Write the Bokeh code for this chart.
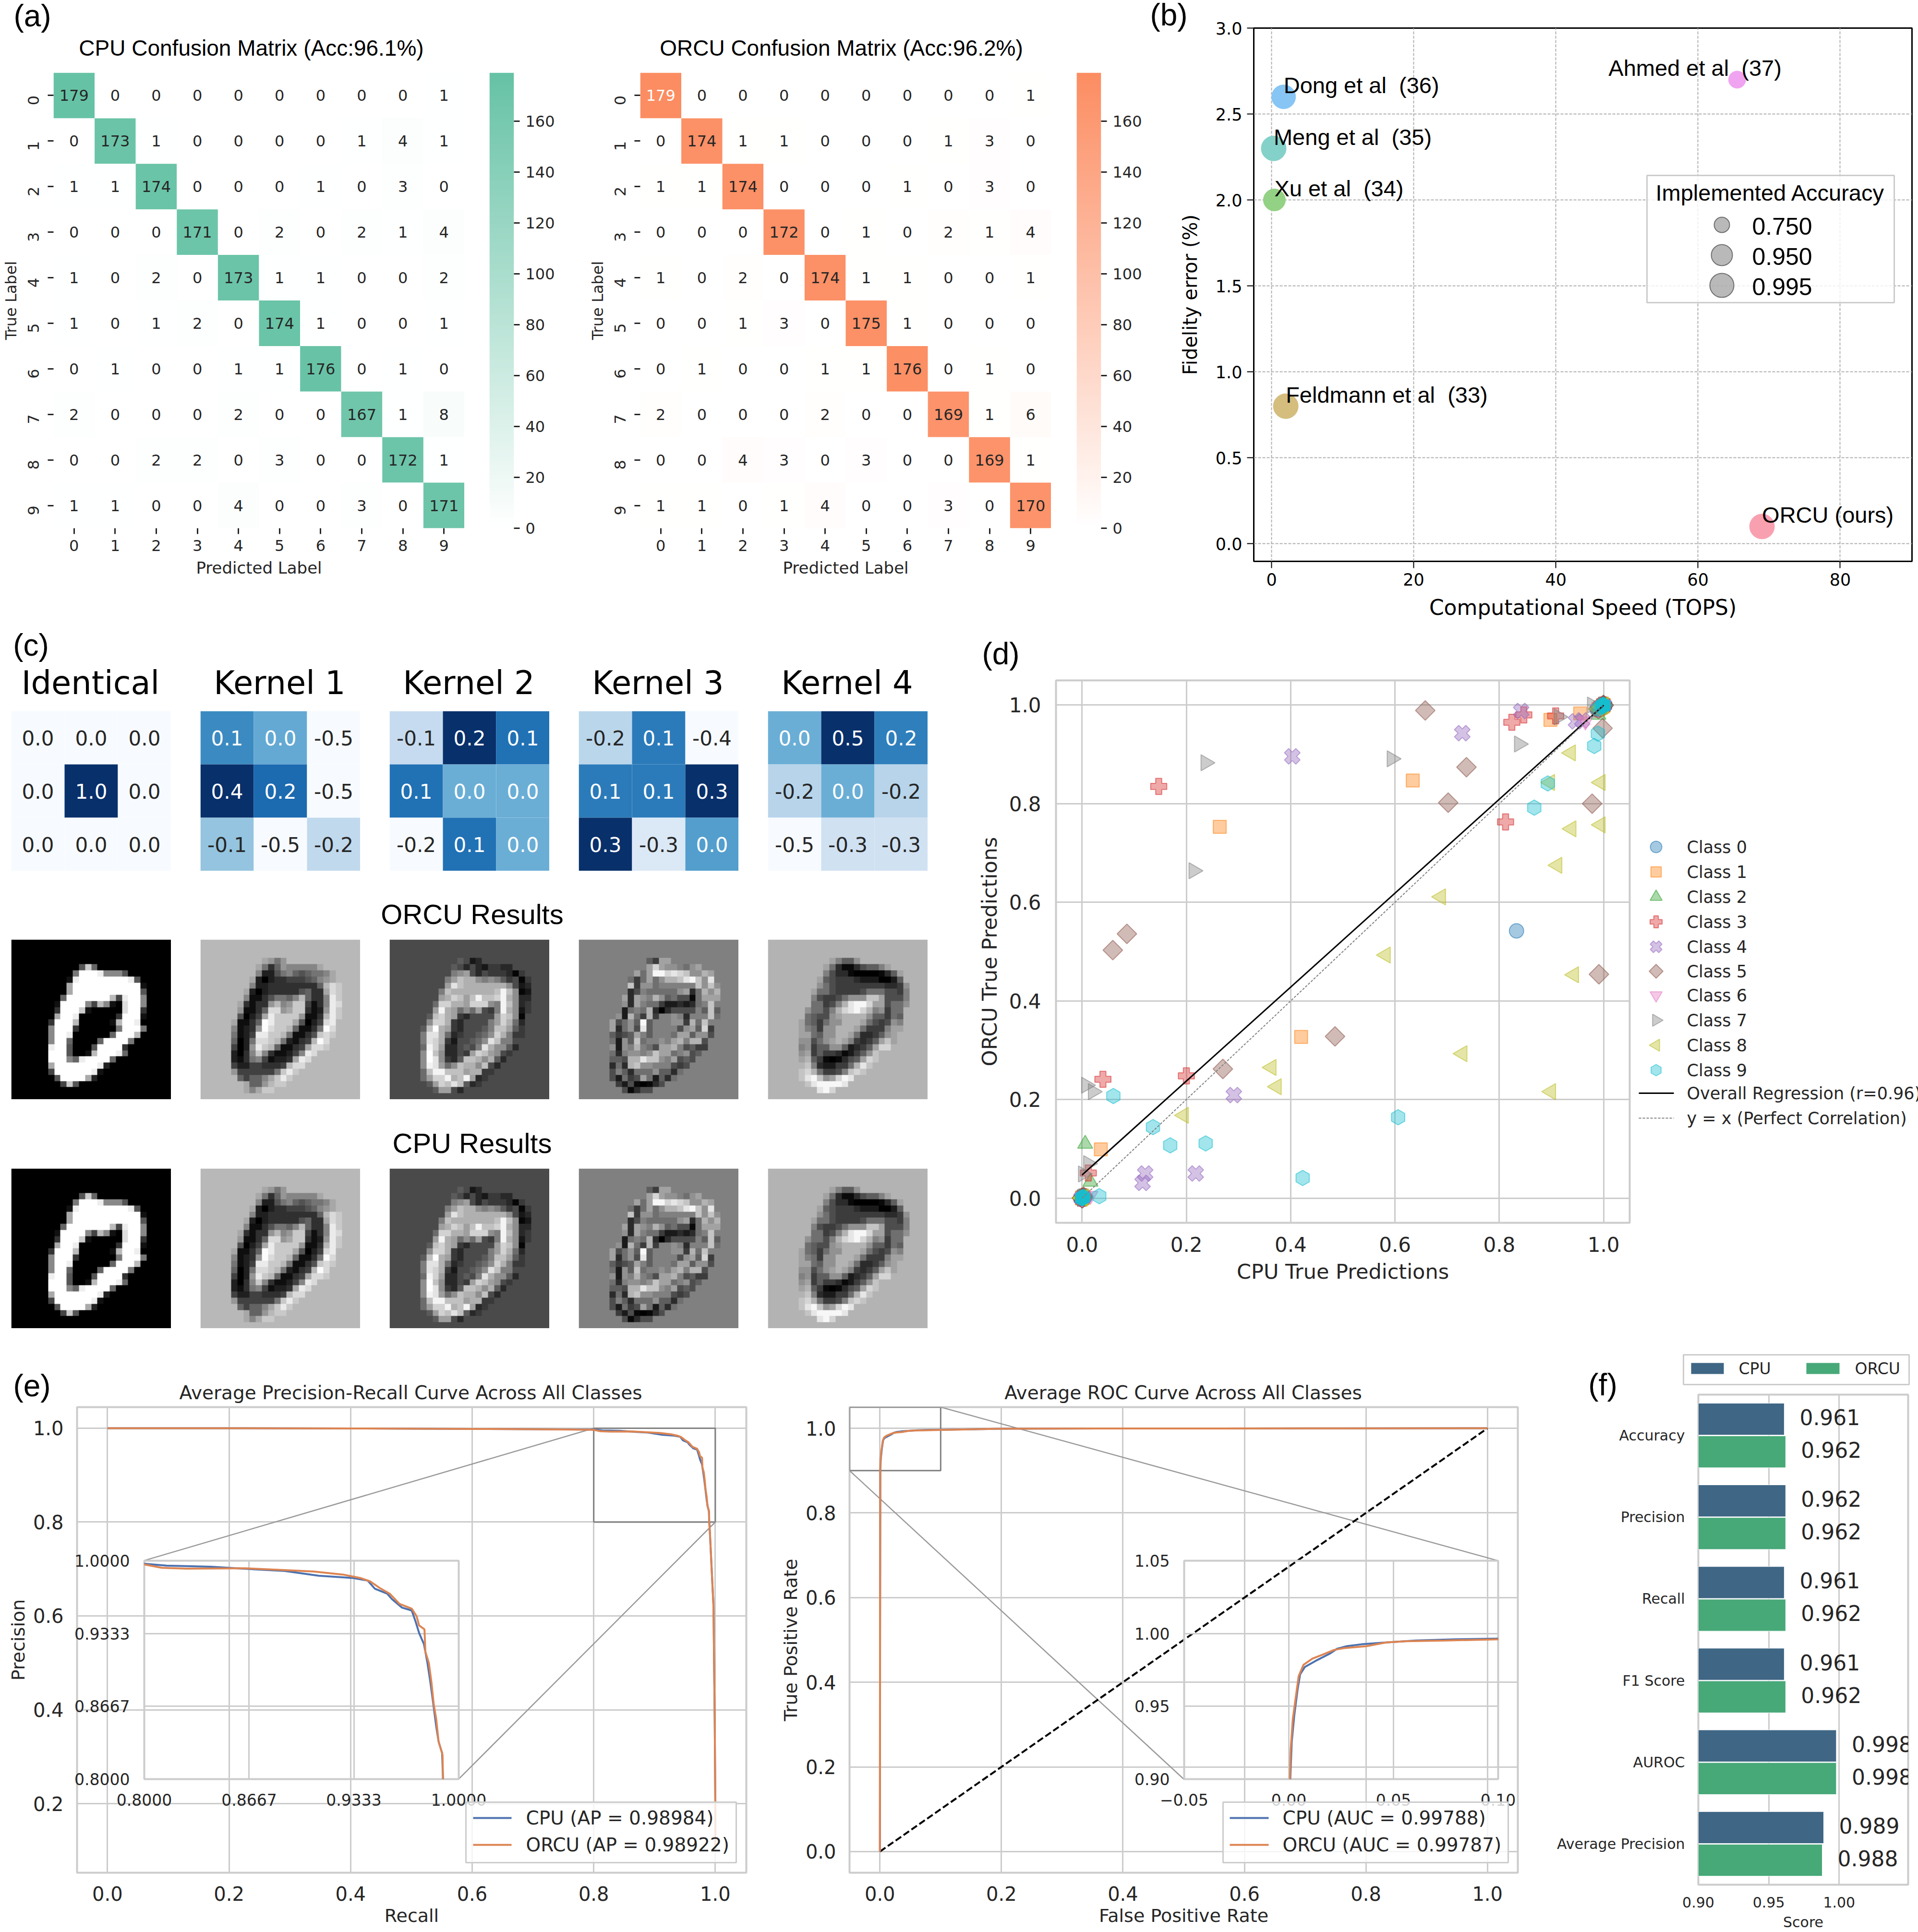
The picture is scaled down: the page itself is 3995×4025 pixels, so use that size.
import numpy as np
from bokeh.embed import file_html
from bokeh.resources import INLINE
from bokeh.plotting import figure
from bokeh.models import Column, FactorRange, Range1d, FixedTicker, LinearColorMapper, NumeralTickFormatter, LabelSet, ColumnDataSource
from bokeh.palettes import Blues256, Greys256
from bokeh.core.properties import value

# ---------- data ----------
cm_labels = ["0","1","2","3","4","5","6","7","8","9"]
cm_cpu = [[179,0,0,0,0,0,0,0,0,1],[0,173,1,0,0,0,0,1,4,1],[1,1,174,0,0,0,1,0,3,0],[0,0,0,171,0,2,0,2,1,4],
          [1,0,2,0,173,1,1,0,0,2],[1,0,1,2,0,174,1,0,0,1],[0,1,0,0,1,1,176,0,1,0],[2,0,0,0,2,0,0,167,1,8],
          [0,0,2,2,0,3,0,0,172,1],[1,1,0,0,4,0,0,3,0,171]]
cm_orcu = [[179,0,0,0,0,0,0,0,0,1],[0,174,1,1,0,0,0,1,3,0],[1,1,174,0,0,0,1,0,3,0],[0,0,0,172,0,1,0,2,1,4],
           [1,0,2,0,174,1,1,0,0,1],[0,0,1,3,0,175,1,0,0,0],[0,1,0,0,1,1,176,0,1,0],[2,0,0,0,2,0,0,169,1,6],
           [0,0,4,3,0,3,0,0,169,1],[1,1,0,1,4,0,0,3,0,170]]
cbar_ticks = [0,20,40,60,80,100,120,140,160]

NB = "\u00a0\u00a0"
bench_names = ["Dong et al"+NB+"(36)","Meng et al"+NB+"(35)","Xu et al"+NB+"(34)","Feldmann et al"+NB+"(33)","Ahmed et al"+NB+"(37)","ORCU (ours)"]
bench_speed = [1.7,0.3,0.4,2.0,65.5,69.0]
bench_error = [2.6,2.3,2.0,0.8,2.7,0.1]
bench_label_x = [1.7,0.3,0.4,2.0,47.4,69.0]
bench_size = [50,52,46,52,36,52]
bench_colors = ["#87c5f5","#84d1c9","#93d284","#d4bd7d","#f0a3f0","#f9a0b0"]
acc_labels = ["0.750","0.950","0.995"]

kernel_titles = ["Identical","Kernel 1","Kernel 2","Kernel 3","Kernel 4"]
kernel_values = [
 [[0,0,0],[0,1,0],[0,0,0]],
 [[.085,-.03,-.5],[.4,.2,-.5],[-.14,-.5,-.26]],
 [[-.1,.2,.1],[.1,0,0],[-.2,.1,0]],
 [[-.2,.1,-.4],[.1,.1,.3],[.3,-.3,0]],
 [[0,.5,.2],[-.2,0,-.2],[-.5,-.3,-.3]]]
kernel_text = [
 [["0.0","0.0","0.0"],["0.0","1.0","0.0"],["0.0","0.0","0.0"]],
 [["0.1","0.0","-0.5"],["0.4","0.2","-0.5"],["-0.1","-0.5","-0.2"]],
 [["-0.1","0.2","0.1"],["0.1","0.0","0.0"],["-0.2","0.1","0.0"]],
 [["-0.2","0.1","-0.4"],["0.1","0.1","0.3"],["0.3","-0.3","0.0"]],
 [["0.0","0.5","0.2"],["-0.2","0.0","-0.2"],["-0.5","-0.3","-0.3"]]]

Z="0"*26; B="b"*26; F="4"*26; E="8"*26
img_digit = [Z,Z,Z,Z,
"000000000005c6000000000000","00000000007fffe88850000000","0000000001effffffffe500000","000000000afffffffffff10000",
"000000000afffffffffff50000","000000006fffffffb4eff80000","00000001ffff84b810dff80000","00000003fffc100000dff30000",
"0000000affe0000003fff10000","0000003fffb000001bffe00000","0000008fff30000007fff70000","0000008ffe0000006fffb00000",
"0000008ff600006ffff7000000","000000eff50005ffff30000000","000000fff5001bfffe60000000","000000fff86effff6000000000",
"000000afffffffe20000000000","0000004ffffffe100000000000","00000005ffffa2000000000000","000000004c5000000000000000",Z,Z]
img_k1 = [B,B,B,"bbbbbbbbbba979bbbbbbbbbbbb",
"bbbbbbbbba736988888abbbbbb","bbbbbbbbb822578656778abbbb","bbbbbbbba202334445689abbbb","bbbbbbbb822333333336bdcbbb",
"bbbbbbba202333335633adcbbb","bbbbbbb811357768b6338ecbbb","bbbbbba31339b89cc4138edbbb","bbbbbb91136dd9acc3129ecbbb",
"bbbbbb5024aecccc9113becbbb","bbbbba1136feccca5024debbbb","bbbbb81239fdccb61137fdbbbb","bbbbb7124eeccb71135cdcbbbb",
"bbbbb6027ddcb72134bfdbbbbb","bbbbb4029ecb61134addcbbbbb","bbbbb2038c8311248edbbbbbbb","bbbbb2137841223aedbbbbbbbb",
"bbbbb422443334bddbbbbbbbbb","bbbbb94444447cecbbbbbbbbbb","bbbbbb64668acecbbbbbbbbbbb","bbbbbbba669bccbbbbbbbbbbbb","bbbbbbba8accbbbbbbbbbbbbbb",B]
img_k2 = [F,F,F,"44444444444541244444444444",
"44444444445424213322444444","44444444447894243332034444","44444444479baa878753403444","4444444449dbaaaaaaa8412444",
"444444447baaaaaaabeb801444","444444449acb9bebbcea822444","44444446ccaa9ccc87eb823444","44444449ea96869437ea813444",
"4444445bca93244449cb804444","4444448cca32444479ca624444","444445bfa93244457bb9534444","444447dda62344568ca7334444",
"444447dca3144568db77444444","444446ec9224547da885244444","444448fb822439cb9843444444","444448fd8325bba8a524444444",
"444448ed968baa8b4244444444","444446beebbb9aa33444444444","4444469cceabe9234444444444","44444459cbdb52344444444444","44444445994244444444444444",F]
img_k3 = [E,E,E,"8888888888864aa88888888888",
"88888888888ada99879a888888","888888888a7affdedc99ba8888","88888888747a79bbcefc9e8888","88888888c4997888888c9c9888",
"88888888358777779a37b9b888","8888888a3a98b9675517aaa888","888888893a87742232378c8888","88888882787b303555586c6888",
"88888892b74b488983888c7888","88888a5796f6888994b7c88888","88888a3795e6888859a6d48888","888886456a868887aa69958888",
"888887296c78898ab8bb588888","888889298b875aab8564488888","888887389989caa78956888888","88888665bbecc98a5658888888",
"88888373bc9988854588888888","88888586377796637888888888","8888852745a726378888888888","88888842510135888888888888","88888885135588888888888888",E]
img_k4 = [B,B,B,"bbbbbbbbbba8669bbbbbbbbbbb",
"bbbbbbbbba731135668abbbbbb","bbbbbbbbb853310000136abbbb","bbbbbbbba6544432220026bbbb","bbbbbbbb975444444443349bbb",
"bbbbbbba775444457775548bbb","bbbbbbb854457999cca5558bbb","bbbbbbb77458beffdaa5779bbb","bbbbbb97758bdefdb89477bbbb",
"bbbbbb76559abbbb966476bbbb","bbbbba764799bbba754598bbbb","bbbbba87499bbba74448aabbbb","bbbbbaa7699bba733469abbbbb",
"bbbbb99579aba84346acabbbbb","bbbbb894669962346addbbbbbb","bbbbb9a4644312469cbbbbbbbb","bbbbbab64101356adcbbbbbbbb",
"bbbbbbc8322447becbbbbbbbbb","bbbbbcdb74458cdcbbbbbbbbbb","bbbbbcefc9adfebbbbbbbbbbbb","bbbbbbceffffebbbbbbbbbbbbb","bbbbbbbbefdbbbbbbbbbbbbbbb",B]
img_levels = [0,-3,6,-8,-8]

class_names = ["Class %d" % i for i in range(10)]
hi_cpu = [1.0,1.0,1.0,.999,.998,.995,.99]
hi_orcu = [1.0,1.0,.999,1.0,.997,.996,.992]
lo_cpu = [0,0,0,0,.001,.002,.003]
lo_orcu = [0,0,0,.001,0,.002,.003]
c0_cpu = [.833]; c0_orcu = [.542]
c1_cpu = [.264,.634,.42,.036,.898,.955]; c1_orcu = [.753,.847,.327,.099,.97,.983]
c2_cpu = [.006,.016,.99]; c2_orcu = [.11,.033,.98]
c3_cpu = [.147,.824,.847,.908,.812,.2,.04,.012]; c3_orcu = [.835,.965,.98,.978,.763,.248,.241,.051]
c4_cpu = [.403,.729,.842,.947,.959,.291,.121,.116,.218]; c4_orcu = [.896,.943,.988,.967,.969,.209,.05,.031,.05]
c5_cpu = [.658,.737,.702,.978,.998,.059,.086,.485,.27,.991]; c5_orcu = [.989,.874,.802,.8,.953,.503,.536,.328,.262,.454]
c6_cpu = [.965,.016]; c6_orcu = [.967,.005]
c7_cpu = [.237,.594,.838,.214,.914,.008,.021,.012,.002,.978]; c7_orcu = [.883,.891,.921,.664,.976,.229,.216,.07,.049,1.0]
c8_cpu = [.937,.897,.994,.994,.938,.911,.688,.582,.943,.729,.363,.373,.899,.195]
c8_orcu = [.903,.843,.843,.757,.749,.675,.611,.493,.453,.293,.265,.226,.216,.168]
c9_cpu = [.989,.982,.893,.867,.606,.06,.136,.169,.237,.423,.033,1.0,.999,.998,1.0,.001,0.0]
c9_orcu = [.942,.917,.841,.792,.164,.207,.144,.107,.111,.041,.004,1.0,.998,1.0,.999,0.0,.001]
reg_x = [0.0,1.0]; reg_y = [0.047,0.9995]

pr_cpu_x = [0,.2,.4,.6,.7,.8,.8143,.8424,.8704,.8891,.9109,.9327,.9421,.9467,.9545,.9576,.9639,.9701,.9726,.9748,.9779,.9801,.9819,.9832,.9857,.9872,.9894,.99,.991,.997,.999,1.0,1.0]
pr_cpu_y = [1,1,.9995,.9985,.998,.9973,.9955,.9945,.9921,.9907,.9863,.9842,.9818,.9743,.9698,.9647,.9571,.9544,.9441,.9338,.9235,.9063,.8892,.8755,.848,.8343,.824,.8,.78,.62,.38,.2,.1]
pr_orcu_x = [0,.2,.4,.6,.7,.8,.8112,.8268,.8642,.8891,.9078,.9265,.9374,.9436,.9498,.9561,.9623,.9701,.9732,.9748,.9782,.9788,.981,.9826,.9841,.9857,.9872,.9897,.99,.991,.997,.999,1.0,1.0]
pr_orcu_y = [1,1,.9995,.9985,.998,.9966,.9935,.9928,.9931,.9914,.9901,.9873,.9842,.9811,.975,.9698,.9605,.9561,.9492,.9407,.9372,.9166,.9063,.8892,.8686,.8549,.8343,.8223,.8,.78,.62,.38,.2,.1]
roc_cpu_x = [0,.0003,.0007,.0014,.0026,.0042,.0054,.0077,.0136,.0195,.023,.0277,.0347,.0465,.0606,.0793,.1,.2,.4,.7,1.0]
roc_cpu_y = [0,.5,.9,.9257,.9437,.9617,.972,.9771,.9818,.9861,.9895,.9913,.9926,.9939,.9952,.996,.9965,.999,.9995,.9998,1.0]
roc_orcu_x = [0,.0002,.0005,.0009,.0019,.0031,.0047,.007,.0113,.016,.0218,.0265,.0371,.0465,.0559,.0746,.1,.2,.4,.7,1.0]
roc_orcu_y = [0,.5,.9,.9206,.9412,.954,.9707,.9785,.9828,.9854,.9888,.99,.9913,.9939,.9947,.9952,.996,.999,.9995,.9998,1.0]

metrics = ["Accuracy","Precision","Recall","F1 Score","AUROC","Average Precision"]
metric_cpu = [.961,.962,.961,.961,.998,.989]
metric_orcu = [.962,.962,.962,.962,.998,.988]
metric_ticks = [.90,.95,1.00]

# ---------- helpers ----------
DJ = "DejaVu Sans"; LB = "Liberation Sans"
INK = "#262626"; GRID = "#cccccc"
BLUE = "#4c72b0"; ORANGE = "#dd8452"
figs = []

def panel(x0, y0, x1, y1, l=0, t=0, r=0, b=0, x_range=None, y_range=None, **kw):
    f = figure(width=int(x1-x0+l+r), height=int(y1-y0+t+b), x_range=x_range, y_range=y_range,
               tools="", toolbar_location=None, output_backend="svg", frame_align=False,
               min_border_left=l, min_border_right=r, min_border_top=t, min_border_bottom=b,
               styles={"position": "absolute", "left": "%dpx" % (x0-l), "top": "%dpx" % (y0-t)}, **kw)
    f.border_fill_color = None
    f.background_fill_color = None
    figs.append(f)
    return f

def style(f, tick, label=None, grid=GRID, gw=3, outline=GRID, ow=4, ink=INK, std=10, font=DJ):
    f.axis.axis_line_color = None
    f.axis.major_tick_line_color = None
    f.axis.minor_tick_line_color = None
    f.axis.major_label_text_font = font
    f.axis.major_label_text_font_size = "%dpx" % tick
    f.axis.major_label_text_color = ink
    f.axis.major_label_standoff = std
    f.axis.axis_label_text_font = font
    f.axis.axis_label_text_font_style = "normal"
    f.axis.axis_label_text_color = ink
    if label:
        f.axis.axis_label_text_font_size = "%dpx" % label
    if grid:
        f.grid.grid_line_color = grid
        f.grid.grid_line_width = gw
    else:
        f.grid.grid_line_color = None
    f.outline_line_color = outline
    f.outline_line_width = ow

def shade(hexcolor, n=256):
    c = np.array([int(hexcolor[i:i+2], 16) for i in (1, 3, 5)], float)
    return ["#%02x%02x%02x" % tuple(int(round(v)) for v in 255+(c-255)*k/(n-1)) for k in range(n)]

def confusion(matrix, x0, x1, cb0, cb1, color, white_from):
    y0, y1 = 151, 1100
    pal = shade(color)
    mapper = LinearColorMapper(palette=pal, low=0, high=179)
    f = panel(x0, y0, x1, y1, l=min(x0, 110), b=125, x_range=FactorRange(factors=cm_labels),
              y_range=FactorRange(factors=cm_labels[::-1]))
    xs = [cm_labels[c] for r in range(10) for c in range(10)]
    ys = [cm_labels[r] for r in range(10) for c in range(10)]
    vals = [matrix[r][c] for r in range(10) for c in range(10)]
    f.rect(x=xs, y=ys, width=1, height=1, fill_color=[pal[int(round(v/179*255))] for v in vals], line_color=None)
    f.text(x=xs, y=ys, text=[str(v) for v in vals], text_font=value(DJ), text_font_size="32px",
           text_align="center", text_baseline="middle",
           text_color=["#ffffff" if v >= white_from else INK for v in vals])
    style(f, 32, 34, grid=None, outline=None, std=12)
    f.axis.major_tick_line_color = INK
    f.axis.major_tick_line_width = 3
    f.axis.major_tick_out = 12
    f.axis.major_tick_in = 0
    f.xaxis.axis_label = "Predicted Label"
    f.yaxis.axis_label = "True Label"
    f.yaxis.axis_label_text_font_size = "32px"
    f.xaxis.axis_label_standoff = 12
    f.yaxis.axis_label_standoff = 2
    f.yaxis.major_label_standoff = 30
    f.yaxis.major_label_orientation = np.pi/2
    c = panel(cb0, y0, cb1, y1, t=30, b=30, r=110, x_range=Range1d(0, 1), y_range=Range1d(0, 179),
              x_axis_location=None, y_axis_location="right")
    c.image(image=[np.linspace(0, 179, 256)[:, None]], x=0, y=0, dw=1, dh=179, color_mapper=mapper)
    style(c, 32, grid=None, outline=None, std=12)
    c.yaxis.ticker = FixedTicker(ticks=cbar_ticks)
    c.yaxis.major_tick_line_color = INK
    c.yaxis.major_tick_line_width = 3
    c.yaxis.major_tick_out = 12
    c.yaxis.major_tick_in = 0

def marker(f, kind, xs, ys, color, size, alpha=0.4):
    shapes = {"o": ("circle", 0, 1.0), "s": ("square", 0, 0.9), "^": ("triangle", 0, 1.05),
              "P": ("plus", 0, 1.05), "X": ("plus", np.pi/4, 1.05), "D": ("square", np.pi/4, 0.85),
              "v": ("inverted_triangle", 0, 1.05), ">": ("triangle", -np.pi/2, 1.05),
              "<": ("triangle", np.pi/2, 1.05), "h": ("hex", np.pi/2, 1.0)}
    name, ang, k = shapes[kind]
    f.scatter(xs, ys, marker=name, angle=ang, size=size*k, fill_color=color, line_color=color,
              fill_alpha=alpha, line_alpha=min(1, alpha+0.15), line_width=2)

# ---------- (a) ----------
confusion(cm_cpu, 110, 967, 1019, 1070, "#66c2a5", 999)
confusion(cm_orcu, 1332, 2189, 2242, 2293, "#fc8d62", 179)

# ---------- (b) ----------
b = panel(2611, 58, 3982, 1169, l=190, t=30, r=10, b=135, x_range=Range1d(-2.5, 90.1), y_range=Range1d(-0.103, 3.0))
style(b, 35, 44, grid="#b0b0b0", gw=2, outline="#000000", ow=3, ink="#000000", std=10)
b.grid.grid_line_dash = "6 3"
b.axis.major_tick_line_color = "#000000"
b.axis.major_tick_line_width = 2
b.axis.major_tick_out = 14
b.axis.major_tick_in = 0
b.xaxis.ticker = FixedTicker(ticks=[0, 20, 40, 60, 80])
b.yaxis.ticker = FixedTicker(ticks=[0, .5, 1, 1.5, 2, 2.5, 3])
b.yaxis.formatter = NumeralTickFormatter(format="0.0")
b.xaxis.axis_label = "Computational Speed (TOPS)"
b.yaxis.axis_label = "Fidelity error (%)"
b.yaxis.axis_label_text_font_size = "40px"
b.xaxis.axis_label_standoff = 17
b.yaxis.axis_label_standoff = 27
b.scatter(bench_speed, bench_error, size=bench_size, fill_color=bench_colors, line_color=bench_colors, line_width=1)
b.text(x=bench_label_x, y=bench_error, text=bench_names, text_font=value(LB), text_font_size="47px",
       text_baseline="middle", text_align="left", y_offset=-24, text_color="#000000")

# ---------- (c) ----------
cell_x = [23, 417, 811, 1205, 1599]
for i in range(5):
    vals = np.array(kernel_values[i], float)
    lo, hi = vals.min(), vals.max()
    pal = Blues256[::-1]
    k = panel(cell_x[i], 1481, cell_x[i]+333, 1814, x_range=Range1d(0, 3), y_range=Range1d(3, 0),
              x_axis_location=None, y_axis_location=None)
    kx = [c+.5 for r in range(3) for c in range(3)]
    ky = [r+.5 for r in range(3) for c in range(3)]
    frac = [(vals[r][c]-lo)/(hi-lo) for r in range(3) for c in range(3)]
    k.rect(x=kx, y=ky, width=1, height=1, fill_color=[pal[int(round(q*255))] for q in frac], line_color=None)
    k.text(x=kx, y=ky, text=[kernel_text[i][r][c] for r in range(3) for c in range(3)],
           text_font=value(DJ), text_font_size="42px", text_align="center", text_baseline="middle",
           text_color=["#ffffff" if q > 0.45 else INK for q in frac])
    k.grid.grid_line_color = None
    k.outline_line_color = None

gray_map = LinearColorMapper(palette=Greys256, low=0, high=255)
orcu_images = [img_digit, img_k1, img_k2, img_k3, img_k4]
cpu_images = [img_digit, img_k1, img_k2, img_k3, img_k4]
def to_gray(rows, level):
    a = np.array([[int(ch, 16)*17 for ch in (row+row[-1]*26)[:26]] for row in rows], float)
    a = a + (level if level else 0)
    return np.clip(a, 0, 255)[::-1]
for top_y, images in ((1957, orcu_images), (2434, cpu_images)):
    for i in range(5):
        g = panel(cell_x[i], top_y, cell_x[i]+333, top_y+333, x_range=Range1d(0, 26), y_range=Range1d(0, 26),
                  x_axis_location=None, y_axis_location=None)
        g.image(image=[to_gray(images[i], img_levels[i])], x=0, y=0, dw=26, dh=26, color_mapper=gray_map)
        g.grid.grid_line_color = None
        g.outline_line_color = None

# ---------- (d) ----------
d = panel(2199, 1417, 3394, 2547, l=190, t=4, r=4, b=150, x_range=Range1d(-.05, 1.05), y_range=Range1d(-.05, 1.05))
style(d, 42, 43, std=23)
d.yaxis.major_label_standoff = 25
d.xaxis.ticker = FixedTicker(ticks=[0, .2, .4, .6, .8, 1])
d.yaxis.ticker = FixedTicker(ticks=[0, .2, .4, .6, .8, 1])
d.axis.formatter = NumeralTickFormatter(format="0.0")
d.xaxis.axis_label = "CPU True Predictions"
d.yaxis.axis_label = "ORCU True Predictions"
d.xaxis.axis_label_standoff = 13
d.yaxis.axis_label_standoff = 13
tab = ["#1f77b4","#ff7f0e","#2ca02c","#d62728","#9467bd","#8c564b","#e377c2","#7f7f7f","#bcbd22","#17becf"]
kinds = ["o","s","^","P","X","D","v",">","<","h"]
sizes = [30,30,30,32,32,34,30,32,32,32]
cl_x = [c0_cpu,c1_cpu,c2_cpu,c3_cpu,c4_cpu,c5_cpu,c6_cpu,c7_cpu,c8_cpu,c9_cpu]
cl_y = [c0_orcu,c1_orcu,c2_orcu,c3_orcu,c4_orcu,c5_orcu,c6_orcu,c7_orcu,c8_orcu,c9_orcu]
for i in range(10):
    marker(d, kinds[i], cl_x[i]+hi_cpu+lo_cpu, cl_y[i]+hi_orcu+lo_orcu, tab[i], sizes[i])
d.line(reg_x, reg_y, line_color="#000000", line_width=3)
d.line([0, 1], [0, 1], line_color="#808080", line_width=2, line_dash="5 3")

# ---------- (e) ----------
def curve_panel(x0, x1, xr, yr, title_label, ylabel, xticks, yticks, l):
    f = panel(x0, 2931, x1, 3901, l=l, t=4, r=4, b=120, x_range=xr, y_range=yr)
    style(f, 40, 38, std=22)
    f.xaxis.ticker = FixedTicker(ticks=xticks)
    f.yaxis.ticker = FixedTicker(ticks=yticks)
    f.axis.formatter = NumeralTickFormatter(format="0.0")
    f.xaxis.axis_label = title_label
    f.yaxis.axis_label = ylabel
    f.xaxis.axis_label_standoff = 6
    f.yaxis.axis_label_standoff = 6
    return f

def inset(x0, x1, xr, yr, xticks, yticks, xover, yover):
    f = panel(x0, 3251, x1, 3706, l=170, t=25, r=70, b=80, x_range=xr, y_range=yr)
    style(f, 33, None, std=24)
    f.xaxis.ticker = FixedTicker(ticks=xticks)
    f.yaxis.ticker = FixedTicker(ticks=yticks)
    f.xaxis.major_label_overrides = xover
    f.yaxis.major_label_overrides = yover
    return f

pr = curve_panel(160, 1554, Range1d(-.05, 1.051), Range1d(.0527, 1.045), "Recall", "Precision",
                 [0, .2, .4, .6, .8, 1], [.2, .4, .6, .8, 1], 158)
pr.line([.8, 1, 1, .8, .8], [.8, .8, 1, 1, .8], line_color="#808080", line_width=3)
pr.line([.8, .0605], [1, .718], line_color="#999999", line_width=2.5)
pr.line([1, .578], [.8, .2526], line_color="#999999", line_width=2.5)
pr.line(pr_cpu_x, pr_cpu_y, line_color=BLUE, line_width=4)
pr.line(pr_orcu_x, pr_orcu_y, line_color=ORANGE, line_width=4)

pri = inset(300, 955, Range1d(.8, 1.0), Range1d(.8, 1.0), [.8, .8667, .9333, 1.0], [.8, .8667, .9333, 1.0],
            {.8: "0.8000", .8667: "0.8667", .9333: "0.9333", 1.0: "1.0000"},
            {.8: "0.8000", .8667: "0.8667", .9333: "0.9333", 1.0: "1.0000"})
pri.line(pr_cpu_x, pr_cpu_y, line_color=BLUE, line_width=4)
pri.line(pr_orcu_x, pr_orcu_y, line_color=ORANGE, line_width=4)

roc = curve_panel(1769, 3161, Range1d(-.05, 1.05), Range1d(-.05, 1.05), "False Positive Rate", "True Positive Rate",
                  [0, .2, .4, .6, .8, 1], [0, .2, .4, .6, .8, 1], 165)
roc.line([-.05, .1, .1, -.05, -.05], [.9, .9, 1.05, 1.05, .9], line_color="#808080", line_width=3)
roc.line([.1, 1.018], [1.05, .687], line_color="#999999", line_width=2.5)
roc.line([-.05, .501], [.9, .17], line_color="#999999", line_width=2.5)
roc.line([0, 1], [0, 1], line_color="#000000", line_width=4, line_dash="14 6")
roc.line(roc_cpu_x, roc_cpu_y, line_color=BLUE, line_width=4)
roc.line(roc_orcu_x, roc_orcu_y, line_color=ORANGE, line_width=4)

roci = inset(2466, 3120, Range1d(-.05, .1), Range1d(.9, 1.05), [-.05, 0, .05, .1], [.9, .95, 1.0, 1.05],
             {-.05: "\u22120.05", 0: "0.00", .05: "0.05", .1: "0.10"},
             {.9: "0.90", .95: "0.95", 1.0: "1.00", 1.05: "1.05"})
roci.line(roc_cpu_x, roc_cpu_y, line_color=BLUE, line_width=4)
roci.line(roc_orcu_x, roc_orcu_y, line_color=ORANGE, line_width=4)

# ---------- (f) ----------
bar = panel(3537, 2905, 3974, 3927, l=320, t=4, r=21, b=97, x_range=Range1d(.9, 1.049), y_range=Range1d(5.5, -.5))
style(bar, 30, 30, std=19)
bar.ygrid.grid_line_color = None
bar.xaxis.ticker = FixedTicker(ticks=metric_ticks)
bar.xaxis.formatter = NumeralTickFormatter(format="0.00")
bar.yaxis.ticker = FixedTicker(ticks=list(range(6)))
bar.yaxis.major_label_standoff = 22
bar.yaxis.major_label_overrides = {i: metrics[i] for i in range(6)}
bar.xaxis.axis_label = "Score"
bar.xaxis.axis_label_standoff = 10
ypos = np.arange(6)
bar.hbar(y=ypos-.2, left=.9, right=metric_cpu, height=.39, fill_color="#3f6684", line_color="#ffffff", line_width=1)
bar.hbar(y=ypos+.2, left=.9, right=metric_orcu, height=.39, fill_color="#47a878", line_color="#ffffff", line_width=1)
for offs, vals in ((-.2, metric_cpu), (.2, metric_orcu)):
    src = ColumnDataSource(dict(x=vals, y=list(ypos+offs), t=["%.3f" % v for v in vals]))
    bar.add_layout(LabelSet(x="x", y="y", text="t", source=src, x_offset=32, y_offset=4, text_font=value(DJ), text_font_size="44px",
                            text_baseline="middle", text_align="left", text_color=INK))

# ---------- page overlay: titles, panel letters, legends ----------
top = figure(width=3995, height=4025, x_range=Range1d(0, 3995), y_range=Range1d(4025, 0), tools="",
             toolbar_location=None, output_backend="svg", x_axis_location=None, y_axis_location=None,
             min_border=0, frame_align=False, styles={"position": "absolute", "left": "0px", "top": "0px"})
top.border_fill_color = None
top.background_fill_color = None
top.grid.grid_line_color = None
top.outline_line_color = None
figs.append(top)

def label(x, y, text, size, font=LB, align="center", color="#000000"):
    top.text(x=[x], y=[y], text=[text], text_font=value(font), text_font_size="%dpx" % size,
             text_align=align, text_baseline="middle", text_color=color)

for t, x, y in (("(a)", 67, 32), ("(b)", 2434, 30), ("(c)", 64, 1343), ("(d)", 2084, 1361), ("(e)", 66, 2886), ("(f)", 3338, 2884)):
    label(x, y, t, 64)
label(523, 99, "CPU Confusion Matrix (Acc:96.1%)", 46)
label(1752, 99, "ORCU Confusion Matrix (Acc:96.2%)", 46)
for i in range(5):
    label(cell_x[i]+165, 1422, kernel_titles[i], 67, font=DJ)
label(983, 1904, "ORCU Results", 58)
label(983, 2381, "CPU Results", 58)
label(855, 2901, "Average Precision-Recall Curve Across All Classes", 39, font=DJ, color=INK)
label(2464, 2901, "Average ROC Curve Across All Classes", 39, font=DJ, color=INK)

def box(x0, y0, x1, y1, alpha=0.8):
    top.quad(left=x0, right=x1, top=y0, bottom=y1, fill_color="#ffffff", fill_alpha=alpha,
             line_color=GRID, line_width=3)

# legend (b)
box(3430, 365, 3945, 630)
label(3687, 401, "Implemented Accuracy", 47)
for yy, sz, txt in zip((468, 531, 594), (32, 44, 50), acc_labels):
    top.scatter([3586], [yy], size=sz, fill_color="#808080", fill_alpha=.55, line_color="#707070", line_width=2)
    label(3649, yy+3, txt, 50, align="left")

# legend (d)
rows_d = [1764, 1816, 1868, 1920, 1972, 2023, 2073, 2125, 2177, 2229]
for i in range(10):
    marker(top, kinds[i], [3449], [rows_d[i]], tab[i], 24)
    label(3513, rows_d[i], class_names[i], 35, font=DJ, align="left", color=INK)
top.line([3413, 3486], [2277, 2277], line_color="#000000", line_width=3)
label(3513, 2277, "Overall Regression (r=0.96)", 35, font=DJ, align="left", color=INK)
top.line([3413, 3486], [2329, 2329], line_color="#808080", line_width=2, line_dash="5 3")
label(3513, 2329, "y = x (Perfect Correlation)", 35, font=DJ, align="left", color=INK)

# legends (e)
for bx0, bx1, lx0, lx1, tx, t1, t2 in ((970, 1533, 985, 1065, 1095, "CPU (AP = 0.98984)", "ORCU (AP = 0.98922)"),
                                       (2547, 3141, 2561, 2642, 2671, "CPU (AUC = 0.99788)", "ORCU (AUC = 0.99787)")):
    box(bx0, 3754, bx1, 3880)
    top.line([lx0, lx1], [3787, 3787], line_color=BLUE, line_width=4)
    top.line([lx0, lx1], [3843, 3843], line_color=ORANGE, line_width=4)
    label(tx, 3787, t1, 39, font=DJ, align="left", color=INK)
    label(tx, 3843, t2, 39, font=DJ, align="left", color=INK)

# legend (f)
box(3506, 2822, 3976, 2884, alpha=1)
top.quad(left=3522, right=3590, top=2839, bottom=2862, fill_color="#3f6684", line_color=None)
top.quad(left=3762, right=3831, top=2839, bottom=2862, fill_color="#47a878", line_color=None)
label(3621, 2851, "CPU", 33, font=DJ, align="left", color=INK)
label(3863, 2851, "ORCU", 33, font=DJ, align="left", color=INK)

page = Column(children=figs, width=3995, height=4025, styles={"position": "absolute", "left": "0px", "top": "0px"})
open("out.html", "w").write(file_html(page, INLINE))
